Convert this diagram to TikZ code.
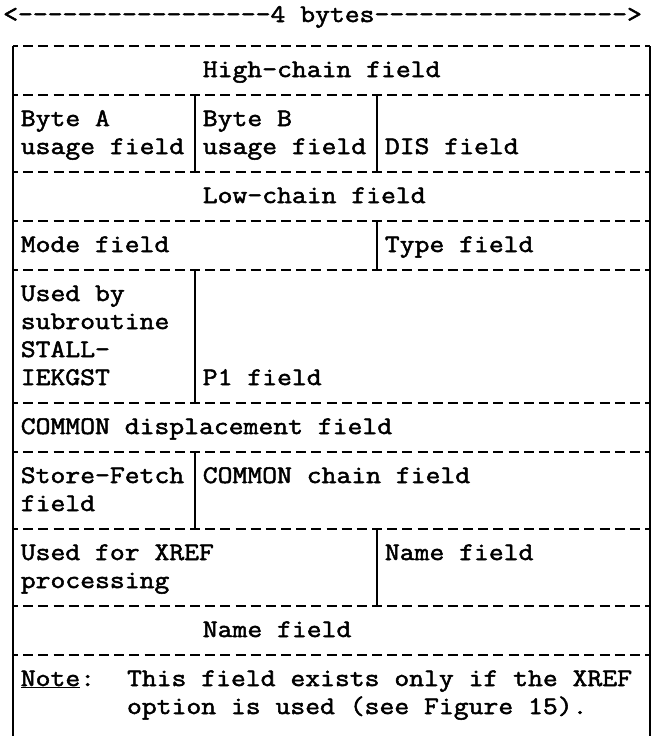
\documentclass[tikz,border=0pt]{standalone}
\usepackage{fontspec}
\setmonofont{Latin Modern Mono}[FakeStretch=1.14, FakeBold=2]
\usepackage{tikz}
\usetikzlibrary{positioning}

\begin{document}
\begin{tikzpicture}[
  x=1pt, y=-1pt,
  tw/.style={anchor=base west, inner sep=0pt, font=\ttfamily\fontsize{25.3}{28}\selectfont},
  dashrule/.style={line width=1.8pt, dash pattern=on 10pt off 5.17pt, dash phase=5pt},
  barrule/.style={line width=1.8pt},
]
\useasboundingbox (0,0) rectangle (655,736);
% header
\node[tw] (hdr) at (3,22) {<-----------------4 bytes----------------->};
% row texts
\node[tw] (high) at (202.6,77) {High-chain field};
\node[tw] (bytea) at (20.6,126) {Byte A};
\node[tw] (usea) at (20.6,154) {usage field};
\node[tw] (byteb) at (202.6,126) {Byte B};
\node[tw] (useb) at (202.6,154) {usage field};
\node[tw] (dis) at (384.7,154) {DIS field};
\node[tw] (low) at (202.6,203) {Low-chain field};
\node[tw] (mode) at (20.6,252) {Mode field};
\node[tw] (type) at (384.7,252) {Type field};
\node[tw] (stall1) at (20.6,301) {Used by};
\node[tw] (stall2) at (20.6,329) {subroutine};
\node[tw] (stall3) at (20.6,357) {STALL-};
\node[tw] (stall4) at (20.6,385) {IEKGST};
\node[tw] (pone) at (202.6,385) {P1 field};
\node[tw] (cdisp) at (20.6,434) {COMMON displacement field};
\node[tw] (sf1) at (20.6,483) {Store-Fetch};
\node[tw] (sf2) at (20.6,511) {field};
\node[tw] (cchain) at (202.6,483) {COMMON chain field};
\node[tw] (xref1) at (20.6,560) {Used for XREF};
\node[tw] (xref2) at (20.6,588) {processing};
\node[tw] (namea) at (384.7,560) {Name field};
\node[tw] (nameb) at (202.6,637) {Name field};
\node[tw] (note) at (20.6,686) {\underline{Note}:};
\node[tw] (note1) at (126.8,686) {This field exists only if the XREF};
\node[tw] (note2) at (126.8,714) {option is used (see Figure 15).};
% dashed separators
\draw[dashrule] (13,46) -- (650,46); \draw[dashrule] (13,95) -- (650,95);
\draw[dashrule] (13,172) -- (650,172); \draw[dashrule] (13,221) -- (650,221);
\draw[dashrule] (13,270) -- (650,270); \draw[dashrule] (13,403) -- (650,403);
\draw[dashrule] (13,452) -- (650,452); \draw[dashrule] (13,529) -- (650,529);
\draw[dashrule] (13,606) -- (650,606); \draw[dashrule] (13,655) -- (650,655);
% vertical bars
\draw[barrule] (13,46) -- (13,736); \draw[barrule] (650,46) -- (650,736);
\draw[barrule] (195,95) -- (195,172); \draw[barrule] (377,95) -- (377,172);
\draw[barrule] (377,221) -- (377,270);
\draw[barrule] (195,270) -- (195,403);
\draw[barrule] (195,452) -- (195,529);
\draw[barrule] (377,529) -- (377,606);
\end{tikzpicture}
\end{document}
